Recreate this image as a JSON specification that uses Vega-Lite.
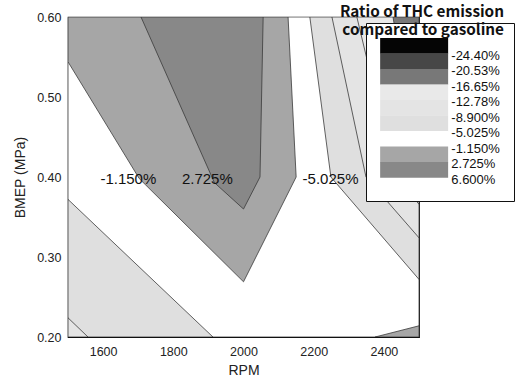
{
  "$schema": "https://vega.github.io/schema/vega-lite/v6.json",
  "width": 351,
  "height": 320,
  "autosize": {"type": "none"},
  "padding": {"left": 68, "top": 17, "right": 97, "bottom": 41},
  "background": "white",
  "title": {
    "text": ["Ratio of THC emission", "compared to gasoline"],
    "orient": "top",
    "anchor": "end",
    "frame": "group",
    "dx": 85,
    "offset": -27,
    "lineHeight": 18,
    "font": "Noto Sans CJK KR",
    "fontWeight": "bold",
    "fontSize": 15.3,
    "color": "#111",
    "zindex": 2
  },
  "datasets": {
    "regions": [
      {"region": "r01", "idx": 1, "rpm": 1500, "bmep": 0.2, "level": -3.09},
      {"region": "r01", "idx": 2, "rpm": 2500, "bmep": 0.2, "level": -3.09},
      {"region": "r01", "idx": 3, "rpm": 2500, "bmep": 0.6, "level": -3.09},
      {"region": "r01", "idx": 4, "rpm": 1500, "bmep": 0.6, "level": -3.09},

      {"region": "r02", "idx": 1, "rpm": 1500, "bmep": 0.372, "level": -6.96},
      {"region": "r02", "idx": 2, "rpm": 1913, "bmep": 0.2, "level": -6.96},
      {"region": "r02", "idx": 3, "rpm": 1500, "bmep": 0.2, "level": -6.96},

      {"region": "r03", "idx": 1, "rpm": 1500, "bmep": 0.224, "level": -10.84},
      {"region": "r03", "idx": 2, "rpm": 1557, "bmep": 0.2, "level": -10.84},
      {"region": "r03", "idx": 3, "rpm": 1500, "bmep": 0.2, "level": -10.84},

      {"region": "r04", "idx": 1, "rpm": 1500, "bmep": 0.6, "level": 0.79},
      {"region": "r04", "idx": 2, "rpm": 1500, "bmep": 0.544, "level": 0.79},
      {"region": "r04", "idx": 3, "rpm": 1703, "bmep": 0.398, "level": 0.79},
      {"region": "r04", "idx": 4, "rpm": 2000, "bmep": 0.269, "level": 0.79},
      {"region": "r04", "idx": 5, "rpm": 2150, "bmep": 0.4, "level": 0.79},
      {"region": "r04", "idx": 6, "rpm": 2127, "bmep": 0.6, "level": 0.79},

      {"region": "r05", "idx": 1, "rpm": 1708, "bmep": 0.6, "level": 4.66},
      {"region": "r05", "idx": 2, "rpm": 1917, "bmep": 0.393, "level": 4.66},
      {"region": "r05", "idx": 3, "rpm": 2000, "bmep": 0.36, "level": 4.66},
      {"region": "r05", "idx": 4, "rpm": 2047, "bmep": 0.4, "level": 4.66},
      {"region": "r05", "idx": 5, "rpm": 2056, "bmep": 0.6, "level": 4.66},

      {"region": "r06", "idx": 1, "rpm": 2189, "bmep": 0.6, "level": -6.96},
      {"region": "r06", "idx": 2, "rpm": 2249, "bmep": 0.4, "level": -6.96},
      {"region": "r06", "idx": 3, "rpm": 2500, "bmep": 0.272, "level": -6.96},
      {"region": "r06", "idx": 4, "rpm": 2500, "bmep": 0.6, "level": -6.96},

      {"region": "r07", "idx": 1, "rpm": 2252, "bmep": 0.6, "level": -10.84},
      {"region": "r07", "idx": 2, "rpm": 2349, "bmep": 0.4, "level": -10.84},
      {"region": "r07", "idx": 3, "rpm": 2500, "bmep": 0.324, "level": -10.84},
      {"region": "r07", "idx": 4, "rpm": 2500, "bmep": 0.6, "level": -10.84},

      {"region": "r08", "idx": 1, "rpm": 2323, "bmep": 0.6, "level": -14.72},
      {"region": "r08", "idx": 2, "rpm": 2432, "bmep": 0.4, "level": -14.72},
      {"region": "r08", "idx": 3, "rpm": 2500, "bmep": 0.366, "level": -14.72},
      {"region": "r08", "idx": 4, "rpm": 2500, "bmep": 0.6, "level": -14.72},

      {"region": "r09", "idx": 1, "rpm": 2426, "bmep": 0.6, "level": -18.59},
      {"region": "r09", "idx": 2, "rpm": 2480, "bmep": 0.45, "level": -18.59},
      {"region": "r09", "idx": 3, "rpm": 2500, "bmep": 0.43, "level": -18.59},
      {"region": "r09", "idx": 4, "rpm": 2500, "bmep": 0.6, "level": -18.59},

      {"region": "r10", "idx": 1, "rpm": 2375, "bmep": 0.2, "level": 0.79},
      {"region": "r10", "idx": 2, "rpm": 2500, "bmep": 0.214, "level": 0.79},
      {"region": "r10", "idx": 3, "rpm": 2500, "bmep": 0.2, "level": 0.79}
    ],
    "labels": [
      {"rpm": 1672, "bmep": 0.397, "text": "-1.150%"},
      {"rpm": 1897, "bmep": 0.397, "text": "2.725%"},
      {"rpm": 2248, "bmep": 0.397, "text": "-5.025%"}
    ]
  },
  "config": {
    "view": {"stroke": "#111", "strokeWidth": 1.2},
    "axis": {
      "grid": false,
      "domainColor": "#111",
      "domainWidth": 1.2,
      "tickColor": "#111",
      "tickWidth": 1,
      "labelFont": "Liberation Sans",
      "labelFontSize": 12.5,
      "labelColor": "#222",
      "titleFont": "Liberation Sans",
      "titleFontSize": 14,
      "titleFontWeight": "normal",
      "titleColor": "#222"
    }
  },
  "layer": [
    {
      "data": {"name": "regions"},
      "mark": {"type": "line", "stroke": "#3a3a3a", "strokeWidth": 0.8, "interpolate": "linear-closed", "clip": true},
      "encoding": {
        "x": {
          "field": "rpm", "type": "quantitative",
          "scale": {"domain": [1500, 2500], "nice": false, "zero": false},
          "axis": {
            "title": "RPM",
            "values": [1600, 1700, 1800, 1900, 2000, 2100, 2200, 2300, 2400],
            "format": "d",
            "labelExpr": "datum.value % 200 == 0 ? datum.label : ''",
            "tickSize": -4,
            "labelPadding": 12,
            "titlePadding": 6
          }
        },
        "y": {
          "field": "bmep", "type": "quantitative",
          "scale": {"domain": [0.2, 0.6], "nice": false, "zero": false},
          "axis": {
            "title": "BMEP (MPa)",
            "values": [0.2, 0.225, 0.25, 0.275, 0.3, 0.325, 0.35, 0.375, 0.4, 0.425, 0.45, 0.475, 0.5, 0.525, 0.55, 0.575, 0.6],
            "format": ".2f",
            "labelExpr": "abs(datum.value * 20 - round(datum.value * 20)) < 0.001 ? datum.label : ''",
            "tickSize": -4,
            "labelPadding": 11,
            "titlePadding": 9
          }
        },
        "fill": {
          "field": "level", "type": "quantitative",
          "scale": {
            "type": "threshold",
            "domain": [-24.40, -20.53, -16.65, -12.78, -8.900, -5.025, -1.150, 2.725, 6.600],
            "range": ["#050505", "#474747", "#787878", "#e9e9e9", "#e4e4e4", "#dfdfdf", "#ffffff", "#a6a6a6", "#888888", "#ffffff"]
          },
          "legend": {
            "title": " ",
            "titleFontSize": 1,
            "titlePadding": 9.6,
            "orient": "none",
            "legendX": 298,
            "legendY": 6,
            "direction": "vertical",
            "values": [-28.27, -24.40, -20.53, -16.65, -12.78, -8.900, -5.025, -1.150, 2.725],
            "symbolType": "M-1,-2.23H7.66V-0.23H-1Z",
            "symbolSize": 246.5,
            "symbolStrokeWidth": 0,
            "symbolOpacity": 1,
            "rowPadding": -9.5,
            "padding": 14,
            "fillColor": "white",
            "strokeColor": "#111",
            "labelFont": "Liberation Sans",
            "labelFontSize": 13,
            "labelColor": "#111",
            "labelBaseline": "middle",
            "labelOffset": 55.3,
            "labelExpr": "datum.index < 9 ? (domain('fill')[datum.index] < 0 ? '-' : '') + format(abs(domain('fill')[datum.index]), '.4r') + '%\u00a0\u00a0' : ''"
          }
        },
        "opacity": {
          "field": "level", "type": "quantitative",
          "scale": {
            "type": "threshold",
            "domain": [-24.40, -20.53, -16.65, -12.78, -8.900, -5.025, -1.150, 2.725, 6.600],
            "range": [1, 1, 1, 1, 1, 1, 1, 1, 1, 1]
          },
          "legend": {"title": " "}
        },
        "detail": {"field": "region"},
        "order": {"field": "idx", "type": "quantitative"}
      }
    },
    {
      "data": {"name": "labels"},
      "mark": {"type": "text", "font": "Liberation Sans", "fontSize": 15, "color": "#111", "baseline": "middle", "align": "center"},
      "encoding": {
        "x": {"field": "rpm", "type": "quantitative"},
        "y": {"field": "bmep", "type": "quantitative"},
        "text": {"field": "text"}
      }
    }
  ]
}
